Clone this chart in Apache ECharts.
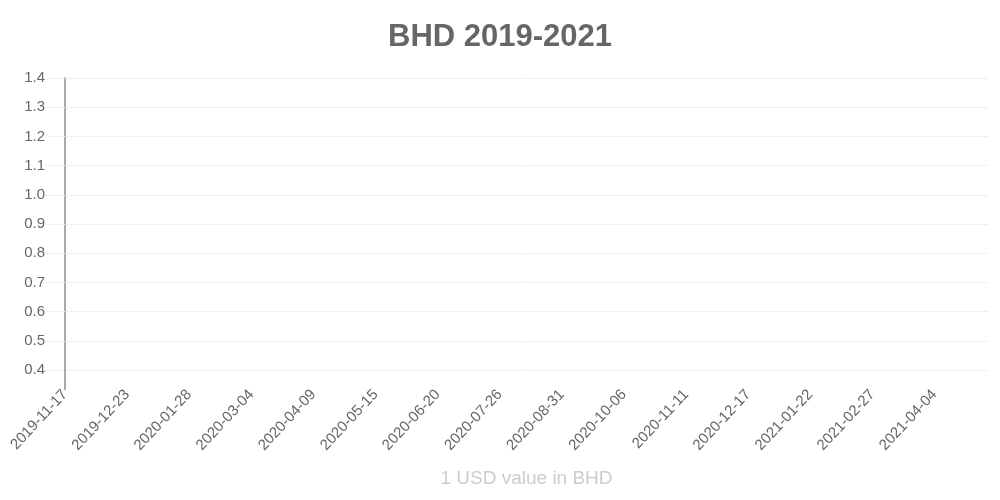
<!DOCTYPE html>
<html>
<head>
<meta charset="utf-8">
<script src="https://cdn.jsdelivr.net/npm/echarts@6/dist/echarts.min.js"></script>
<style>
  html, body { margin: 0; padding: 0; background: #fff; }
  #chart { width: 1000px; height: 500px; }
</style>
</head>
<body>
<div id="chart"></div>
<script>
// daily axis from first to last day shown
const firstDay = "2019-11-17";
const dayCount = 536;

// BHD per 1 USD readings (pegged, below the visible y range 0.4-1.4)
const rateDates = [
  "2019-11-17", "2019-12-17", "2020-01-16", "2020-02-15", "2020-03-16",
  "2020-04-15", "2020-05-15", "2020-06-14", "2020-07-14", "2020-08-13",
  "2020-09-12", "2020-10-12", "2020-11-11", "2020-12-11", "2021-01-10",
  "2021-02-09", "2021-03-11", "2021-04-10", "2021-05-05",
];
const rateValues = [
  0.3770, 0.3770, 0.3770, 0.3770, 0.3771,
  0.3771, 0.3770, 0.3770, 0.3770, 0.3770,
  0.3770, 0.3770, 0.3770, 0.3770, 0.3770,
  0.3770, 0.3770, 0.3770, 0.3770,
];

const yMin = 0.4;
const yMax = 1.4;
const yStep = 0.1;

const days = [];
{
  const d = new Date(firstDay + "T00:00:00Z");
  for (let i = 0; i < dayCount; i++) {
    days.push(d.toISOString().slice(0, 10));
    d.setUTCDate(d.getUTCDate() + 1);
  }
}
const seriesData = days.map((day) => {
  const k = rateDates.indexOf(day);
  return k >= 0 ? rateValues[k] : null;
});

const chart = echarts.init(document.getElementById("chart"));
const font = "'Liberation Sans', Arial, Helvetica, sans-serif";

chart.setOption({
  animation: false,
  title: {
    text: "BHD 2019-2021",
    left: "center",
    top: 17,
    textStyle: { fontFamily: font, fontSize: 31, fontWeight: "bold", color: "#666" },
  },
  grid: { left: 65, right: 12, top: 78, bottom: 130 },
  xAxis: {
    type: "category",
    data: days,
    boundaryGap: false,
    name: "1 USD value in BHD",
    nameLocation: "middle",
    nameGap: 99,
    nameTextStyle: { fontFamily: font, fontSize: 19, color: "#ccc" },
    axisLine: { show: false },
    axisTick: {
      show: true,
      interval: (i) => i === 0,
      length: 20,
      lineStyle: { color: "#aaa", width: 2 },
    },
    axisLabel: {
      interval: 35,
      rotate: 47,
      margin: 22,
      fontFamily: font,
      fontSize: 15,
      color: "#666",
    },
    splitLine: { show: false },
  },
  yAxis: {
    type: "value",
    min: yMin,
    max: yMax,
    interval: yStep,
    axisLine: { show: true, lineStyle: { color: "#aaa", width: 2 } },
    axisTick: { show: true, length: 20, lineStyle: { color: "#efefef", width: 1 } },
    axisLabel: {
      margin: 20,
      fontFamily: font,
      fontSize: 15,
      color: "#666",
      formatter: (v) => v.toFixed(1),
    },
    splitLine: { show: true, lineStyle: { color: "#efefef", width: 1 } },
  },
  series: [
    {
      type: "line",
      data: seriesData,
      connectNulls: true,
      showSymbol: false,
      clip: true,
      lineStyle: { color: "#4bc0c0", width: 2 },
    },
  ],
});
</script>
</body>
</html>
